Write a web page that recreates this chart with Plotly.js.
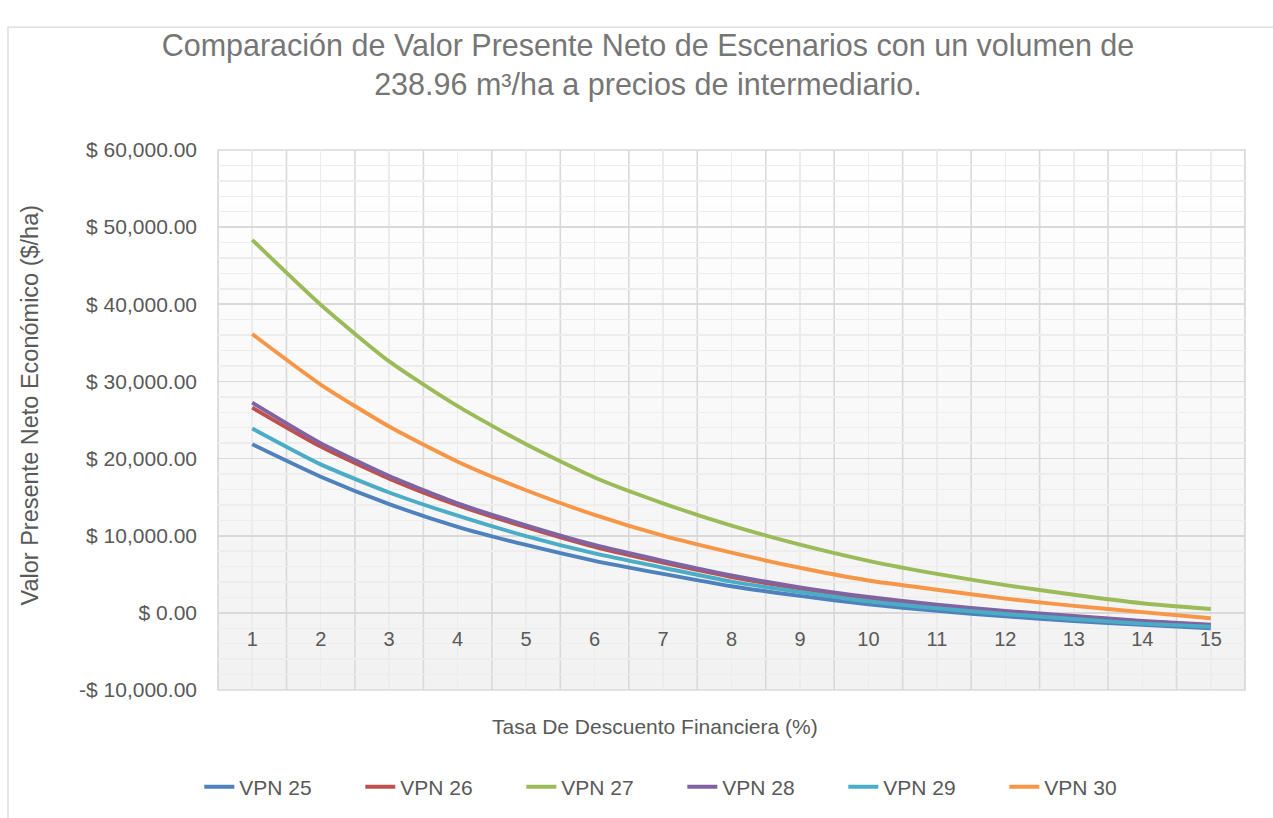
<!DOCTYPE html>
<html>
<head>
<meta charset="utf-8">
<script src="https://cdn.plot.ly/plotly-3.0.1.min.js"></script>
<style>
  body { margin: 0; background: #fff; }
  #plotDiv { width: 1273px; height: 818px; }
</style>
</head>
<body>
<div id="plotDiv"></div>
<script>
// Tasa de descuento (%)
let tasas = [1, 2, 3, 4, 5, 6, 7, 8, 9, 10, 11, 12, 13, 14, 15];

// VPN por escenario ($/ha)
let vpn25 = [21850, 17650, 14100, 11150, 8800, 6750, 5050, 3450, 2200, 1100, 250, -450, -1050, -1550, -2000];
let vpn26 = [26600, 21550, 17400, 13950, 11100, 8550, 6500, 4650, 3150, 1900, 950, 150, -500, -1100, -1600];
let vpn27 = [48350, 39950, 32600, 26800, 21850, 17550, 14200, 11300, 8850, 6750, 5050, 3600, 2350, 1250, 500];
let vpn28 = [27250, 22000, 17750, 14200, 11350, 8800, 6750, 4850, 3300, 2050, 1050, 250, -400, -1050, -1550];
let vpn29 = [23900, 19250, 15600, 12600, 9950, 7700, 5850, 4050, 2700, 1500, 600, -150, -800, -1400, -1800];
let vpn30 = [36150, 29600, 24150, 19600, 15900, 12700, 10000, 7800, 5850, 4200, 3000, 1850, 900, 100, -700];

let nombres = ["VPN 25", "VPN 26", "VPN 27", "VPN 28", "VPN 29", "VPN 30"];
let colores = ["#4F81BD", "#C0504D", "#9BBB59", "#8064A2", "#4BACC6", "#F79646"];

// Etiquetas del eje Y
let yTicks = [-10000, 0, 10000, 20000, 30000, 40000, 50000, 60000];
let yLabels = ["-$ 10,000.00", "$ 0.00", "$ 10,000.00", "$ 20,000.00", "$ 30,000.00", "$ 40,000.00", "$ 50,000.00", "$ 60,000.00"];

// limites entre categorias (lineas de division verticales)
let limites = [0.5, 1.5, 2.5, 3.5, 4.5, 5.5, 6.5, 7.5, 8.5, 9.5, 10.5, 11.5, 12.5, 13.5, 14.5, 15.5];

let series = [vpn25, vpn26, vpn27, vpn28, vpn29, vpn30];
let data = series.map((s, i) => ({
    x: tasas,
    y: s,
    name: nombres[i],
    mode: "lines",
    type: "scatter",
    line: {color: colores[i], width: 3.9, shape: "spline", smoothing: 0.6}
}));

let fuente = "Liberation Sans, Arial, sans-serif";
let gris = "#595959";

// fondo degradado del area de grafica (blanco arriba, gris abajo)
let shapes = [];
let pasos = 40;
for (let i = 0; i < pasos; i++) {
    let t = i / pasos;
    let c = Math.round(242 + (255 - 242) * t);
    shapes.push({
        type: "rect", xref: "paper", yref: "paper",
        x0: 0, x1: 1, y0: t, y1: t + 1 / pasos + 0.002,
        fillcolor: "rgb(" + c + "," + c + "," + c + ")",
        line: {width: 0}, layer: "below"
    });
}
// lineas de division entre categorias
limites.forEach(v => {
    shapes.push({type: "line", xref: "x", yref: "paper", x0: v, x1: v, y0: 0, y1: 1,
        line: {color: "#d9d9d9", width: 1.6}, layer: "between"});
});
// borde del area de grafica
shapes.push({type: "rect", xref: "paper", yref: "paper", x0: 0, x1: 1, y0: 0, y1: 1,
    line: {color: "#d9d9d9", width: 1.6}, layer: "between"});
// borde exterior del grafico
shapes.push({type: "rect", xref: "paper", yref: "paper", x0: -0.2045, x1: 1.06, y0: -0.3, y1: 1.2274,
    line: {color: "#d9d9d9", width: 1.3}, layer: "below"});

let layout = {
    width: 1273,
    height: 818,
    margin: {l: 218, r: 28, t: 150, b: 127},
    paper_bgcolor: "#ffffff",
    plot_bgcolor: "rgba(0,0,0,0)",
    font: {family: fuente, color: gris, size: 19},
    title: {
        text: "Comparación de Valor Presente Neto de Escenarios con un volumen de<br>238.96 m³/ha a precios de intermediario.",
        font: {family: fuente, size: 30.5, color: "#767676"},
        x: 0.509, xanchor: "center", xref: "container",
        y: 0.932, yanchor: "top", yref: "container"
    },
    xaxis: {
        type: "linear",
        range: [0.5, 15.5],
        tickvals: tasas,
        ticktext: tasas.map(String),
        anchor: "free",
        position: 1 / 7,
        showline: false,
        zeroline: false,
        ticks: "",
        ticklabelstandoff: 12,
        tickfont: {size: 20, color: gris},
        showgrid: true,
        gridcolor: "#ececec",
        gridwidth: 1.5,
        fixedrange: true
    },
    yaxis: {
        range: [-10000, 60000],
        tickvals: yTicks,
        ticktext: yLabels,
        tickfont: {size: 21, color: gris},
        ticklabelstandoff: 20,
        showgrid: true,
        gridcolor: "#d9d9d9",
        gridwidth: 1.6,
        zeroline: true,
        zerolinecolor: "#d9d9d9",
        zerolinewidth: 1.6,
        minor: {tick0: 0, dtick: 2000, showgrid: true, gridcolor: "#ededed", gridwidth: 1.5, ticks: ""},
        fixedrange: true
    },
    annotations: [{
        text: "Tasa De Descuento Financiera (%)",
        xref: "paper", yref: "paper",
        x: 0.4255, y: -0.0684,
        xanchor: "center", yanchor: "middle",
        showarrow: false,
        font: {size: 21, color: gris}
    }, {
        text: "Valor Presente Neto Económico ($/ha)",
        xref: "paper", yref: "paper",
        x: -0.183, y: 0.527,
        xanchor: "center", yanchor: "middle",
        textangle: -90,
        showarrow: false,
        font: {size: 23.5, color: gris}
    }],
    shapes: shapes,
    showlegend: true,
    legend: {
        orientation: "h",
        x: -0.0182, xanchor: "left",
        y: -0.1775, yanchor: "middle",
        entrywidth: 116, entrywidthmode: "pixels",
        font: {size: 21, color: gris},
        bgcolor: "rgba(0,0,0,0)"
    }
};

Plotly.newPlot("plotDiv", data, layout, {displayModeBar: false, staticPlot: true});
</script>
</body>
</html>
